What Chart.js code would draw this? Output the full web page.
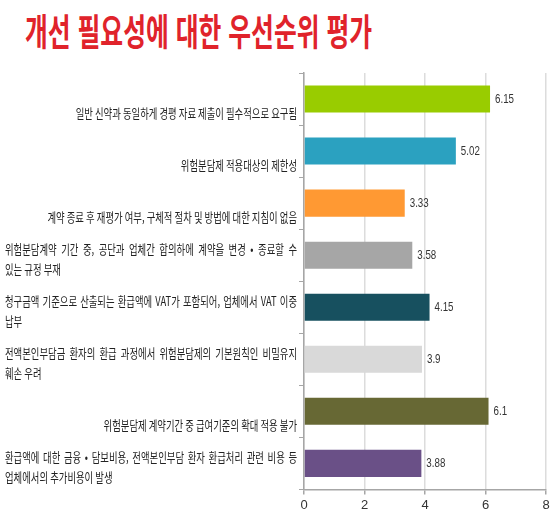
<!DOCTYPE html>
<html lang="ko">
<head>
<meta charset="utf-8">
<title>개선 필요성에 대한 우선순위 평가</title>
<script src="https://cdn.jsdelivr.net/npm/chart.js@4.4.1/dist/chart.umd.min.js"></script>
<style>
  html, body { margin: 0; padding: 0; background: #fff; }
  #wrap { position: relative; width: 550px; height: 522px; overflow: hidden; }
  #title {
    position: absolute; left: 25px; top: 8px;
    font-family: "Noto Sans CJK KR", sans-serif; font-weight: 700;
    font-size: 37px; line-height: 44px; color: #e0232b;
    white-space: nowrap; transform-origin: 0 0; transform: scaleX(0.67);
  }
  #chartContainer { position: absolute; left: 0; top: 0; }
</style>
</head>
<body>
<div id="wrap">
  <div id="title">개선 필요성에 대한 우선순위 평가</div>
  <canvas id="chartContainer" width="550" height="522"></canvas>
</div>
<script>
// categories, wrapped the same way as the original chart
const categories = [
  ["일반 신약과 동일하게 경평 자료 제출이 필수적으로 요구됨"],
  ["위험분담제 적용대상의 제한성"],
  ["계약 종료 후 재평가 여부, 구체적 절차 및 방법에 대한 지침이 없음"],
  ["위험분담계약 기간 중, 공단과 업체간 합의하에 계약을 변경 • 종료할 수", "있는 규정 부재"],
  ["청구금액 기준으로 산출되는 환급액에 VAT가 포함되어, 업체에서 VAT 이중", "납부"],
  ["전액본인부담금 환자의 환급 과정에서 위험분담제의 기본원칙인 비밀유지", "훼손 우려"],
  ["위험분담제 계약기간 중 급여기준의 확대 적용 불가"],
  ["환급액에 대한 금융 • 담보비용, 전액본인부담 환자 환급처리 관련 비용 등", "업체에서의 추가비용이 발생"]
];
const scores = [6.15, 5.02, 3.33, 3.58, 4.15, 3.9, 6.1, 3.88];
const barColors = ["#99cc00", "#2ba1c0", "#ff9933", "#a6a6a6", "#17505f", "#d9d9d9", "#676834", "#6a5087"];
const xTicks = [0, 2, 4, 6, 8];

const labelFont = '"Noto Sans CJK KR", sans-serif';
const numFont = '"Liberation Sans Narrow", "Liberation Sans", sans-serif';

// draw text squeezed horizontally (the original uses a narrow font)
function drawNarrow(ctx, text, x, y, align, sx) {
  ctx.save();
  ctx.translate(x, y);
  ctx.scale(sx, 1);
  ctx.textAlign = align;
  ctx.fillText(text, 0, 0);
  ctx.restore();
}

// first lines of wrapped labels are spread over the full width
function drawJustified(ctx, text, left, right, y, sx) {
  const words = text.split(" ");
  const widths = words.map((w) => ctx.measureText(w).width * sx);
  const total = widths.reduce((a, b) => a + b, 0);
  const gap = (right - left - total) / (words.length - 1);
  let x = left;
  words.forEach((w, i) => {
    drawNarrow(ctx, w, x, y, "left", sx);
    x += widths[i] + gap;
  });
}

// category labels placed on the y scale
const categoryLabels = {
  id: "categoryLabels",
  afterDraw(chart) {
    const ctx = chart.ctx;
    const yScale = chart.scales.y;
    const right = yScale.right - 7;
    const left = 5;
    const sx = 0.72;
    ctx.save();
    ctx.font = "13px " + labelFont;
    ctx.fillStyle = "#222";
    ctx.textBaseline = "middle";
    categories.forEach((lines, i) => {
      const cy = yScale.getPixelForValue(i);
      if (lines.length === 1) {
        drawNarrow(ctx, lines[0], right, cy + 14, "right", sx);
      } else {
        lines.forEach((line, j) => {
          const ty = cy - 6 + j * 19.5;
          if (j < lines.length - 1) drawJustified(ctx, line, left, right, ty, sx);
          else drawNarrow(ctx, line, left, ty, "left", sx);
        });
      }
    });
    ctx.restore();
  }
};

// value labels at the end of each bar
const valueLabels = {
  id: "valueLabels",
  afterDatasetsDraw(chart) {
    const ctx = chart.ctx;
    const meta = chart.getDatasetMeta(0);
    ctx.save();
    ctx.font = "13px " + numFont;
    ctx.fillStyle = "#333";
    ctx.textBaseline = "middle";
    meta.data.forEach((bar, i) => {
      drawNarrow(ctx, String(scores[i]), bar.x + 5, bar.y, "left", 0.75);
    });
    ctx.restore();
  }
};

const ctx = document.getElementById("chartContainer");
const chart = new Chart(ctx, {
  type: "bar",
  data: {
    labels: categories.map((lines) => lines.join(" ")),
    datasets: [
      {
        data: scores,
        backgroundColor: barColors,
        borderWidth: 0,
        categoryPercentage: 1,
        barPercentage: 0.52,
      },
    ],
  },
  options: {
    indexAxis: "y",
    responsive: false,
    animation: false,
    devicePixelRatio: 1,
    layout: { padding: { left: 0, right: 4, top: 73, bottom: 6 } },
    plugins: {
      legend: { display: false },
      tooltip: { enabled: false },
    },
    scales: {
      x: {
        min: 0,
        max: 8,
        afterBuildTicks: (scale) => {
          scale.ticks = xTicks.map((v) => ({ value: v }));
        },
        afterFit: (scale) => {
          scale.paddingRight = 0;
        },
        grid: {
          color: "#dcdcdc",
          lineWidth: 1.5,
          tickColor: "#a6a6a6",
          tickLength: 5,
        },
        border: { color: "#a6a6a6", width: 1.5 },
        ticks: {
          color: "#333",
          font: { family: numFont, size: 13 },
          padding: 3,
          maxRotation: 0,
        },
      },
      y: {
        afterFit: (scale) => {
          scale.width = 304;
        },
        grid: {
          offset: true,
          drawOnChartArea: false,
          tickColor: "#a6a6a6",
          tickLength: 5,
        },
        border: { color: "#a6a6a6", width: 1.5 },
        ticks: { display: false },
      },
    },
  },
  plugins: [valueLabels, categoryLabels],
});
</script>
</body>
</html>
